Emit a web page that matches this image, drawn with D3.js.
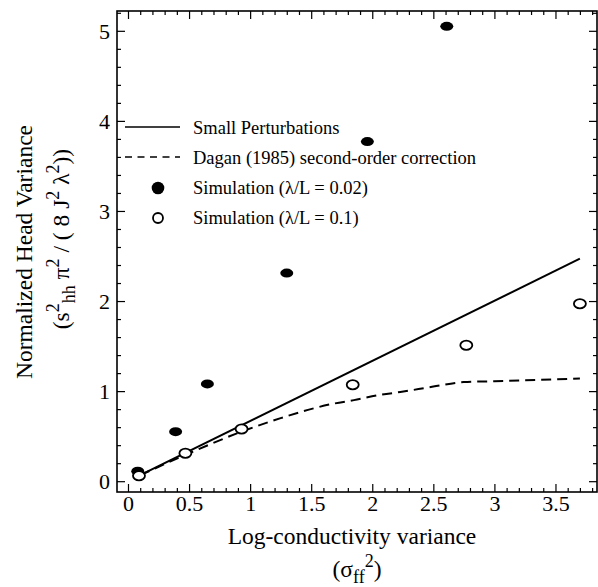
<!DOCTYPE html>
<html>
<head>
<meta charset="utf-8">
<script src="https://cdn.jsdelivr.net/npm/d3@7"></script>
<style>
  html, body { margin: 0; padding: 0; background: #fff; }
  svg { display: block; }
  svg text { font-family: 'Liberation Serif', 'DejaVu Serif', serif !important; fill: #000; }
</style>
</head>
<body>
<svg id="chart" width="598" height="587" font-family="Liberation Serif"></svg>
<script>
// ---- data ----
const xTicks = [0, 0.5, 1, 1.5, 2, 2.5, 3, 3.5];
const xTickLabels = ["0", "0.5", "1", "1.5", "2", "2.5", "3", "3.5"];
const yTicks = [0, 1, 2, 3, 4, 5];
const yTickLabels = ["0", "1", "2", "3", "4", "5"];

const smallPertX = [0.1, 3.7];
const smallPertY = [0.067, 2.47];

const daganX = [0.1, 0.5, 0.93, 1.25, 1.68, 1.85, 2.07, 2.23, 2.5, 2.75, 3.0, 3.7];
const daganY = [0.067, 0.31, 0.55, 0.70, 0.86, 0.90, 0.96, 0.99, 1.05, 1.10, 1.11, 1.14];

const sim002X = [0.08, 0.39, 0.65, 1.30, 1.96, 2.61];
const sim002Y = [0.11, 0.55, 1.08, 2.31, 3.77, 5.05];

const sim01X = [0.09, 0.47, 0.93, 1.84, 2.77, 3.70];
const sim01Y = [0.06, 0.31, 0.58, 1.07, 1.51, 1.97];

const legendLabels = ["Small Perturbations", "Dagan (1985) second-order correction",
                      "Simulation (\u03BB/L = 0.02)", "Simulation (\u03BB/L = 0.1)"];

// ---- layout ----
const FONT = "'Liberation Serif', 'DejaVu Serif', serif";
const L = 117, R = 597, T = 11, B = 492;
const svg = d3.select("#chart");

const x = d3.scaleLinear().domain([-0.09, 3.84]).range([L, R]);
const y = d3.scaleLinear().domain([-0.12, 5.22]).range([B, T]);

const xMinor = d3.range(0, 39).map(i => i / 10).filter(v => Math.abs(v * 2 - Math.round(v * 2)) > 1e-6);
const yMinor = d3.range(0, 27).map(i => i / 5).filter(v => Math.abs(v - Math.round(v)) > 1e-6 && v <= 5.2);

const axisW = 1.6;

function styleAxis(g) {
  g.attr("font-family", FONT);
  g.select(".domain").remove();
  g.selectAll("line").attr("stroke", "#000").attr("stroke-width", 1.2);
}

// bottom major
svg.append("g").attr("transform", `translate(0,${B})`)
  .call(d3.axisBottom(x).tickValues(xTicks).tickFormat((d, i) => xTickLabels[i]).tickSize(-8).tickPadding(0))
  .call(styleAxis)
  .call(g => g.selectAll("text").attr("y", 19).attr("dy", 0)
      .attr("font-family", FONT).attr("font-size", 22).attr("fill", "#000"));
// bottom minor
svg.append("g").attr("transform", `translate(0,${B})`)
  .call(d3.axisBottom(x).tickValues(xMinor).tickFormat("").tickSize(-4))
  .call(styleAxis);
// top major/minor
svg.append("g").attr("transform", `translate(0,${T})`)
  .call(d3.axisTop(x).tickValues(xTicks).tickFormat("").tickSize(-8))
  .call(styleAxis);
svg.append("g").attr("transform", `translate(0,${T})`)
  .call(d3.axisTop(x).tickValues(xMinor).tickFormat("").tickSize(-4))
  .call(styleAxis);
// left major
svg.append("g").attr("transform", `translate(${L},0)`)
  .call(d3.axisLeft(y).tickValues(yTicks).tickFormat((d, i) => yTickLabels[i]).tickSize(-8).tickPadding(0))
  .call(styleAxis)
  .call(g => g.selectAll("text").attr("x", -7).attr("dy", "0.34em")
      .attr("font-family", FONT).attr("font-size", 22).attr("fill", "#000"));
svg.append("g").attr("transform", `translate(${L},0)`)
  .call(d3.axisLeft(y).tickValues(yMinor).tickFormat("").tickSize(-4))
  .call(styleAxis);
// right
svg.append("g").attr("transform", `translate(${R},0)`)
  .call(d3.axisRight(y).tickValues(yTicks).tickFormat("").tickSize(-8))
  .call(styleAxis);
svg.append("g").attr("transform", `translate(${R},0)`)
  .call(d3.axisRight(y).tickValues(yMinor).tickFormat("").tickSize(-4))
  .call(styleAxis);

// frame
svg.append("rect").attr("x", L).attr("y", T).attr("width", R - L).attr("height", B - T)
  .attr("fill", "none").attr("stroke", "#000").attr("stroke-width", axisW);

// lines
const line = d3.line().x(d => x(d[0])).y(d => y(d[1]));
svg.append("path")
  .datum(smallPertX.map((v, i) => [v, smallPertY[i]]))
  .attr("d", line).attr("fill", "none").attr("stroke", "#000").attr("stroke-width", 2);

const curve = d3.line().x(d => x(d[0])).y(d => y(d[1])).curve(d3.curveMonotoneX);
svg.append("path")
  .datum(daganX.map((v, i) => [v, daganY[i]]))
  .attr("d", curve).attr("fill", "none").attr("stroke", "#000").attr("stroke-width", 2)
  .attr("stroke-dasharray", "10,6");

// points
svg.append("g").selectAll("ellipse")
  .data(sim002X.map((v, i) => [v, sim002Y[i]]))
  .join("ellipse")
  .attr("cx", d => x(d[0])).attr("cy", d => y(d[1]))
  .attr("rx", 6.5).attr("ry", 4.5).attr("fill", "#000");

svg.append("g").selectAll("ellipse")
  .data(sim01X.map((v, i) => [v, sim01Y[i]]))
  .join("ellipse")
  .attr("cx", d => x(d[0])).attr("cy", d => y(d[1]))
  .attr("rx", 6).attr("ry", 4.6).attr("fill", "#fff").attr("stroke", "#000").attr("stroke-width", 1.8);

// legend
const lg = svg.append("g").attr("font-family", FONT);
lg.append("line").attr("x1", 125).attr("x2", 180).attr("y1", 127).attr("y2", 127)
  .attr("stroke", "#000").attr("stroke-width", 1.5);
lg.append("line").attr("x1", 125).attr("x2", 180).attr("y1", 157).attr("y2", 157)
  .attr("stroke", "#000").attr("stroke-width", 1.5).attr("stroke-dasharray", "7,5.5");
lg.append("circle").attr("cx", 158).attr("cy", 188).attr("r", 6.3).attr("fill", "#000");
lg.append("circle").attr("cx", 158).attr("cy", 218).attr("r", 5).attr("fill", "#fff")
  .attr("stroke", "#000").attr("stroke-width", 1.8);
[134, 164, 194, 224].forEach((yy, i) => {
  lg.append("text").attr("x", 193).attr("y", yy).attr("font-family", FONT)
    .attr("font-size", 18.5).text(legendLabels[i]);
});

// x title
const TS = 23.5, SS = 18;
svg.append("text").attr("x", 352).attr("y", 544).attr("text-anchor", "middle")
  .attr("font-family", FONT).attr("font-size", TS).text("Log-conductivity variance");
const xt2 = svg.append("text").attr("x", 357).attr("y", 577).attr("text-anchor", "middle")
  .attr("font-family", FONT).attr("font-size", TS);
xt2.append("tspan").text("(\u03C3");
xt2.append("tspan").attr("dy", 6).attr("font-size", SS).text("ff");
xt2.append("tspan").attr("dy", -16).attr("font-size", SS).text("2");
xt2.append("tspan").attr("dy", 10).text(")");

// y title
svg.append("text").attr("transform", "translate(32,252) rotate(-90)").attr("text-anchor", "middle")
  .attr("font-family", FONT).attr("font-size", TS).text("Normalized Head Variance");
const yt2 = svg.append("text").attr("transform", "translate(69,239) rotate(-90)").attr("text-anchor", "middle")
  .attr("font-family", FONT).attr("font-size", TS);
yt2.append("tspan").text("(s");
yt2.append("tspan").attr("dy", -10).attr("font-size", SS).text("2");
yt2.append("tspan").attr("dy", 16).attr("font-size", SS).text("hh");
yt2.append("tspan").attr("dy", -6).text(" \u03C0");
yt2.append("tspan").attr("dy", -10).attr("font-size", SS).text("2");
yt2.append("tspan").attr("dy", 10).text(" / ( 8 J");
yt2.append("tspan").attr("dy", -10).attr("font-size", SS).text("2");
yt2.append("tspan").attr("dy", 10).text(" \u03BB");
yt2.append("tspan").attr("dy", -10).attr("font-size", SS).text("2");
yt2.append("tspan").attr("dy", 10).text("))");
</script>
</body>
</html>
